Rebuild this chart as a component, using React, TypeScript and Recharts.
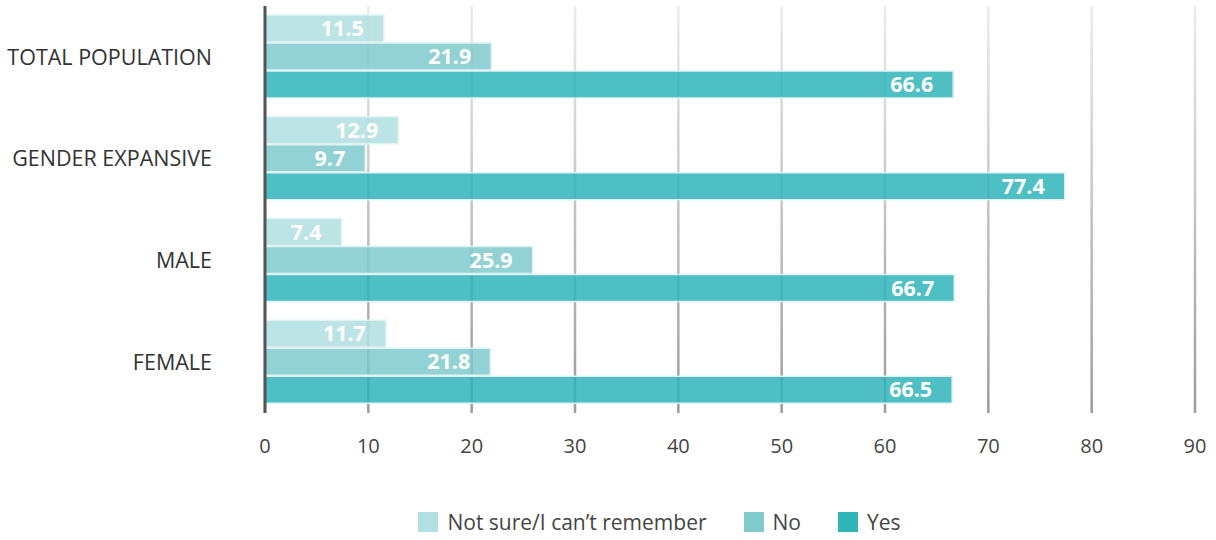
import React from 'react';
import { BarChart, Bar, XAxis, YAxis, CartesianGrid, LabelList, Legend } from 'recharts';

const categories = ['TOTAL POPULATION', 'GENDER EXPANSIVE', 'MALE', 'FEMALE'];
const notSure = [11.5, 12.9, 7.4, 11.7];
const no = [21.9, 9.7, 25.9, 21.8];
const yes = [66.6, 77.4, 66.7, 66.5];
const xTicks = [0, 10, 20, 30, 40, 50, 60, 70, 80, 90];

const series = [
  { key: 'notSure', name: 'Not sure/I can\u2019t remember', color: '#b2dfe0' },
  { key: 'no', name: 'No', color: '#80cacc' },
  { key: 'yes', name: 'Yes', color: '#2fb5b8' },
];

const data = categories.map((name, i) => ({
  name,
  notSure: notSure[i],
  no: no[i],
  yes: yes[i],
}));

const FONT = '"Open Sans", "Noto Sans", sans-serif';

const renderLegend = () => (
  <div style={{ display: 'flex', justifyContent: 'center', alignItems: 'center', gap: 37, paddingLeft: 124 }}>
    {series.map((s) => (
      <div key={s.key} style={{ display: 'flex', alignItems: 'center' }}>
        <span style={{ width: 20, height: 20, background: s.color, display: 'inline-block', marginRight: 9 }} />
        <span style={{ color: '#444', fontSize: 21, fontFamily: FONT }}>{s.name}</span>
      </div>
    ))}
  </div>
);

export default function App() {
  return (
    <div style={{ position: 'absolute', left: 0, top: 0, background: '#fff' }}>
      <BarChart
        width={1216}
        height={540}
        data={data}
        layout="vertical"
        margin={{ top: 6, right: 21, left: 0, bottom: 4 }}
        barCategoryGap={9}
        barGap={1}
      >
        <defs>
          <linearGradient id="gridGrad" gradientUnits="userSpaceOnUse" x1="0" y1="6" x2="0" y2="410">
            <stop offset="0%" stopColor="#ececec" />
            <stop offset="100%" stopColor="#9c9c9c" />
          </linearGradient>
        </defs>
        <CartesianGrid horizontal={false} stroke="url(#gridGrad)" strokeWidth={2.5} />
        <XAxis
          type="number"
          domain={[0, 90]}
          ticks={xTicks}
          axisLine={false}
          tickLine={false}
          tickSize={0}
          tickMargin={26}
          height={95}
          tick={{ fill: '#444', fontSize: 20, fontFamily: FONT }}
        />
        <YAxis
          type="category"
          dataKey="name"
          width={265}
          axisLine={{ stroke: '#555', strokeWidth: 3 }}
          tickLine={false}
          tickSize={0}
          tickMargin={53}
          tick={{ fill: '#333', fontSize: 21.5, fontFamily: FONT }}
        />
        <Legend verticalAlign="bottom" content={renderLegend} />
        {series.map((s) => (
          <Bar
            key={s.key}
            dataKey={s.key}
            name={s.name}
            fill={s.color}
            fillOpacity={0.85}
            stroke="#dff3f3"
            strokeWidth={1.5}
            isAnimationActive={false}
          >
            <LabelList
              dataKey={s.key}
              position="insideRight"
              offset={20}
              fill="#fff"
              fontSize={21.5}
              fontWeight="bold"
              fontFamily={FONT}
            />
          </Bar>
        ))}
      </BarChart>
    </div>
  );
}
